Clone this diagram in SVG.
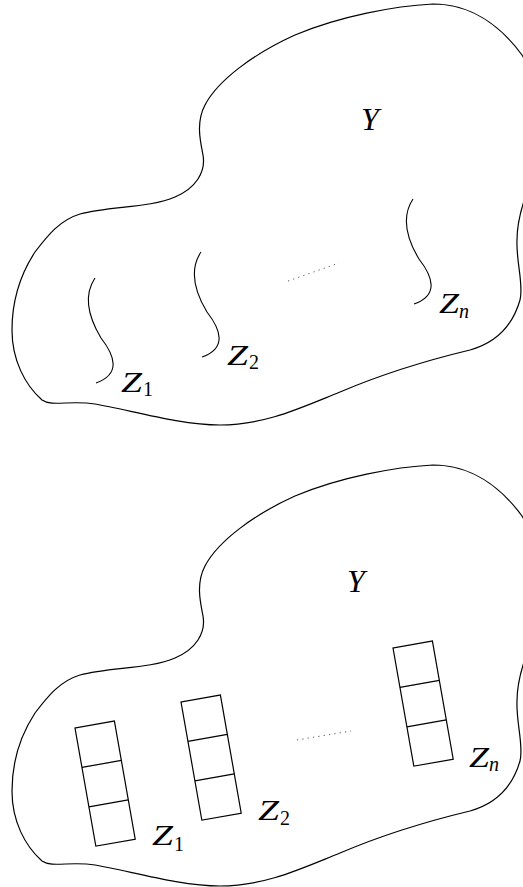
<svg xmlns="http://www.w3.org/2000/svg" xmlns:xlink="http://www.w3.org/1999/xlink" width="523" height="887" viewBox="0 0 523 887">
<style>
.blob{fill:none;stroke:#000;stroke-width:1.2}
.wave{fill:none;stroke:#000;stroke-width:1.1}
.col{fill:none;stroke:#000;stroke-width:1.2}
.dots{fill:none;stroke:#555;stroke-width:1;stroke-dasharray:1.2 4.2}
.m{font-family:"Liberation Serif",serif;font-style:italic;font-size:30px;fill:#000}
.y{font-family:"Liberation Serif",serif;font-style:italic;font-size:32px;fill:#000}
.s{font-family:"Liberation Serif",serif;font-size:20px;fill:#000;font-style:normal}
.si{font-family:"Liberation Serif",serif;font-size:20px;fill:#000;font-style:italic}
</style>
<defs>
<path id="blobshape" d="M433,4 C395,6 340,16 295,35 C255,53 218,80 205,105 C196,122 200,140 203,155 C206,172 196,188 175,197 C150,208 110,206 80,214 C60,220 48,235 35,252 C20,275 12,300 12,330 C12,360 25,385 42,400 C52,407 70,400 95,404 C130,410 180,425 220,425 C265,425 300,408 340,392 C380,375 420,362 470,350 C495,343 512,328 520,300 C524,285 516,262 517,240 C517,225 520,212 526,195 C545,150 545,95 522,55 C500,25 470,4 433,4 Z"/>
<path id="wv" d="M0,0 C-12,18 -6,40 6,60 C20,78 26,96 1,105"/>
<g id="column">
<rect x="0" y="0" width="40" height="120"/>
<line x1="0" y1="40" x2="40" y2="40"/>
<line x1="0" y1="80" x2="40" y2="80"/>
</g>
</defs>

<g id="top-diagram">
<g id="Y-top">
<use xlink:href="#blobshape" href="#blobshape" class="blob"/>
<text class="y" x="361" y="130">Y</text>
</g>
<g id="Z1-top">
<use xlink:href="#wv" href="#wv" class="wave" transform="translate(95,278)"/>
<text class="m" x="121" y="392" textLength="21" lengthAdjust="spacingAndGlyphs">Z</text><text class="s" x="143" y="396">1</text>
</g>
<g id="Z2-top">
<use xlink:href="#wv" href="#wv" class="wave" transform="translate(201,252)"/>
<text class="m" x="227" y="365" textLength="21" lengthAdjust="spacingAndGlyphs">Z</text><text class="s" x="249" y="369">2</text>
</g>
<g id="Zn-top">
<use xlink:href="#wv" href="#wv" class="wave" transform="translate(413,199)"/>
<text class="m" x="439" y="313" textLength="20" lengthAdjust="spacingAndGlyphs">Z</text><text class="si" x="459" y="318">n</text>
</g>
</g>

<g id="bottom-diagram">
<g id="Y-bottom">
<use xlink:href="#blobshape" href="#blobshape" class="blob" transform="translate(0,461)"/>
<text class="y" x="347" y="592">Y</text>
</g>
<g id="Z1-bottom">
<use xlink:href="#column" href="#column" class="col" transform="translate(75,728) rotate(-10)"/>
<text class="m" x="152" y="845" textLength="21" lengthAdjust="spacingAndGlyphs">Z</text><text class="s" x="174" y="851">1</text>
</g>
<g id="Z2-bottom">
<use xlink:href="#column" href="#column" class="col" transform="translate(181,702) rotate(-10)"/>
<text class="m" x="258" y="820" textLength="21" lengthAdjust="spacingAndGlyphs">Z</text><text class="s" x="280" y="825">2</text>
</g>
<g id="Zn-bottom">
<use xlink:href="#column" href="#column" class="col" transform="translate(393,648) rotate(-10)"/>
<text class="m" x="469" y="767" textLength="20" lengthAdjust="spacingAndGlyphs">Z</text><text class="si" x="489" y="771">n</text>
</g>
</g>

<g id="connectors">
<line class="dots" x1="288" y1="281" x2="339" y2="263"/>
<line class="dots" x1="297" y1="740" x2="351" y2="731"/>
</g>
</svg>
